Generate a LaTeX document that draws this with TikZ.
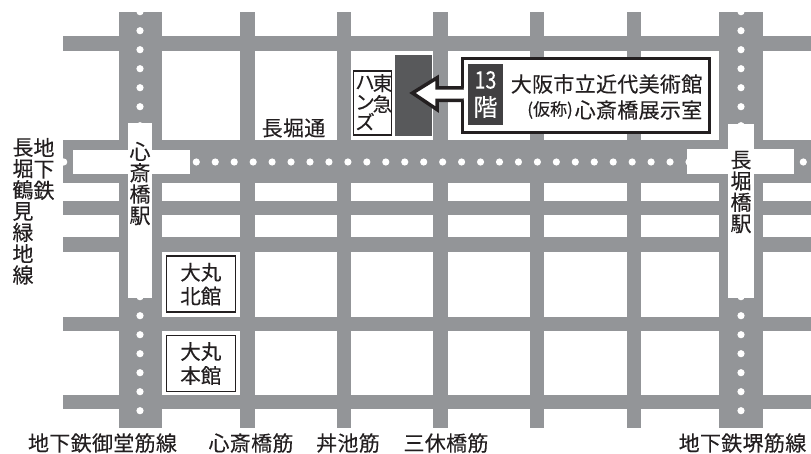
\documentclass[tikz,border=0pt]{standalone}
\usepackage{fontspec}
\newfontfamily\cjk[LetterSpace=1.5,FakeBold=0.15]{Noto Sans CJK JP}
\newfontfamily\cjktight[FakeBold=0.15]{Noto Sans CJK JP}
\definecolor{road}{HTML}{939598}
\definecolor{ink}{HTML}{231F20}
\definecolor{bldg}{HTML}{58595B}
\definecolor{plate}{HTML}{414042}
\tikzset{
  roadfill/.style={fill=road,draw=none},
  whitefill/.style={fill=white,draw=none},
  lab/.style={inner sep=0pt,text=ink,align=center,font=\cjk\fontsize{21}{21.3}\selectfont},
  labtwenty/.style={inner sep=0pt,text=ink,align=center,font=\cjktight\fontsize{20.5}{24}\selectfont},
  shopbox/.style={draw=ink,line width=1.6pt,fill=white,inner sep=0pt,minimum width=69pt,minimum height=56pt}
}
\begin{document}
\begin{tikzpicture}[x=1pt,y=-1pt]
\useasboundingbox (0,0) rectangle (811,454);
\fill[white] (0,0) rectangle (811,454);
% horizontal streets
\foreach \a/\b in {36/50.6,201/215,237.3/252,316.5/330.5,395/409}
  \fill[roadfill] (63,\a) rectangle (811,\b);
\fill[roadfill] (63,140.5) rectangle (811,183.3);
% vertical streets
\foreach \a/\b in {240/254.7,337/351.3,433.2/447.6,530/544,626.7/641}
  \fill[roadfill] (\a,12) rectangle (\b,428);
\fill[roadfill] (118.5,12) rectangle (161.5,428);
\fill[roadfill] (719.4,12) rectangle (762.6,428);
% subway dots
\foreach \y in {11.7,30.7,49.7,68.7,87.7,106.7,125.7,296.7,315.7,334.7,353.7,372.7,391.7,410.7}{
  \fill[white] (140,\y) circle (3.6);
  \fill[white] (741,\y) circle (3.6);
}
\foreach \k in {0,...,26}
  \fill[white] ({196.3+18.95*\k},162) circle (3.6);
\fill[white] (63.7,162) circle (3.6);
\fill[white] (803.3,162) circle (3.6);
% stations
\fill[whitefill] (127.7,123.3) rectangle (152.3,298);
\fill[whitefill] (73.3,149.7) rectangle (190,174.3);
\fill[whitefill] (728.3,124) rectangle (753.7,297.7);
\fill[whitefill] (687.3,149.4) rectangle (794.3,174.3);
% building
\fill[bldg] (395,55) rectangle (431.7,136);
% Tokyu Hands
\draw[ink,line width=1.3pt,fill=white] (353.6,71) rectangle (391.5,135);
\node[labtwenty,font=\cjktight\fontsize{19.5}{21}\selectfont] (tokyu) at (382.5,93.5) {東\\急};
\node[labtwenty,font=\cjktight\fontsize{19.5}{20}\selectfont] (hands) at (365,103) {ハ\\ン\\ズ};
% callout
\node[draw=ink,line width=3.5pt,fill=white,inner sep=0pt,minimum width=247pt,minimum height=74.4pt] (callout) at (585.8,95.5) {};
\fill[plate] (468.3,64) rectangle (503,125);
\node[inner sep=0pt,text=white,font=\cjktight\fontsize{24}{24}\selectfont,xscale=.82] (thirteen) at (485.5,80) {13};
\node[inner sep=0pt,text=white,font=\cjktight\fontsize{24}{24}\selectfont] (kai) at (485.5,107) {階};
\node[lab,anchor=east] (museum) at (702.5,84) {大阪市立近代美術館};
\node[lab,anchor=east] (shinsai) at (702.5,110) {心斎橋展示室};
\node[lab,anchor=east,font=\cjktight\fontsize{17}{17}\selectfont] (kasho) at (573,110) {(仮称)};
% arrow
\coordinate (shaftT) at (463.5,88);
\coordinate (shaftB) at (463.5,100.3);
\fill[white] (shaftT) -- (437,88) -- (437,77.8) -- (412.5,93) -- (437,109.5) -- (437,100.3) -- (shaftB) -- cycle;
\draw[ink,line width=3.5pt,miter limit=10] (shaftT) -- (437,88) -- (437,77.8) -- (412.5,93) -- (437,109.5) -- (437,100.3) -- (shaftB);
\fill[white] (459,89.8) rectangle (465,98.5);
% Daimaru
\node[shopbox] (kita) at (200.8,284.2) {};
\node[shopbox] (hon) at (200.8,363.5) {};
\node[labtwenty] at (kita) {大丸\\北館};
\node[labtwenty] at (hon) {大丸\\本館};
% labels
\node[lab] (nagahori) at (293.5,128) {長堀通};
\node[lab] (sta1) at (140,183.5) {心\\斎\\橋\\駅};
\node[lab] (sta2) at (741,192) {長\\堀\\橋\\駅};
\node[lab] (chika) at (44,169) {地\\下\\鉄};
\node[lab] (tsurumi) at (23,211.5) {長\\堀\\鶴\\見\\緑\\地\\線};
\node[lab] at (102.5,443) {地下鉄御堂筋線};
\node[lab] at (251,443) {心斎橋筋};
\node[lab] at (348,443) {丼池筋};
\node[lab] at (446,443) {三休橋筋};
\node[lab] at (742.5,443) {地下鉄堺筋線};
\end{tikzpicture}
\end{document}
